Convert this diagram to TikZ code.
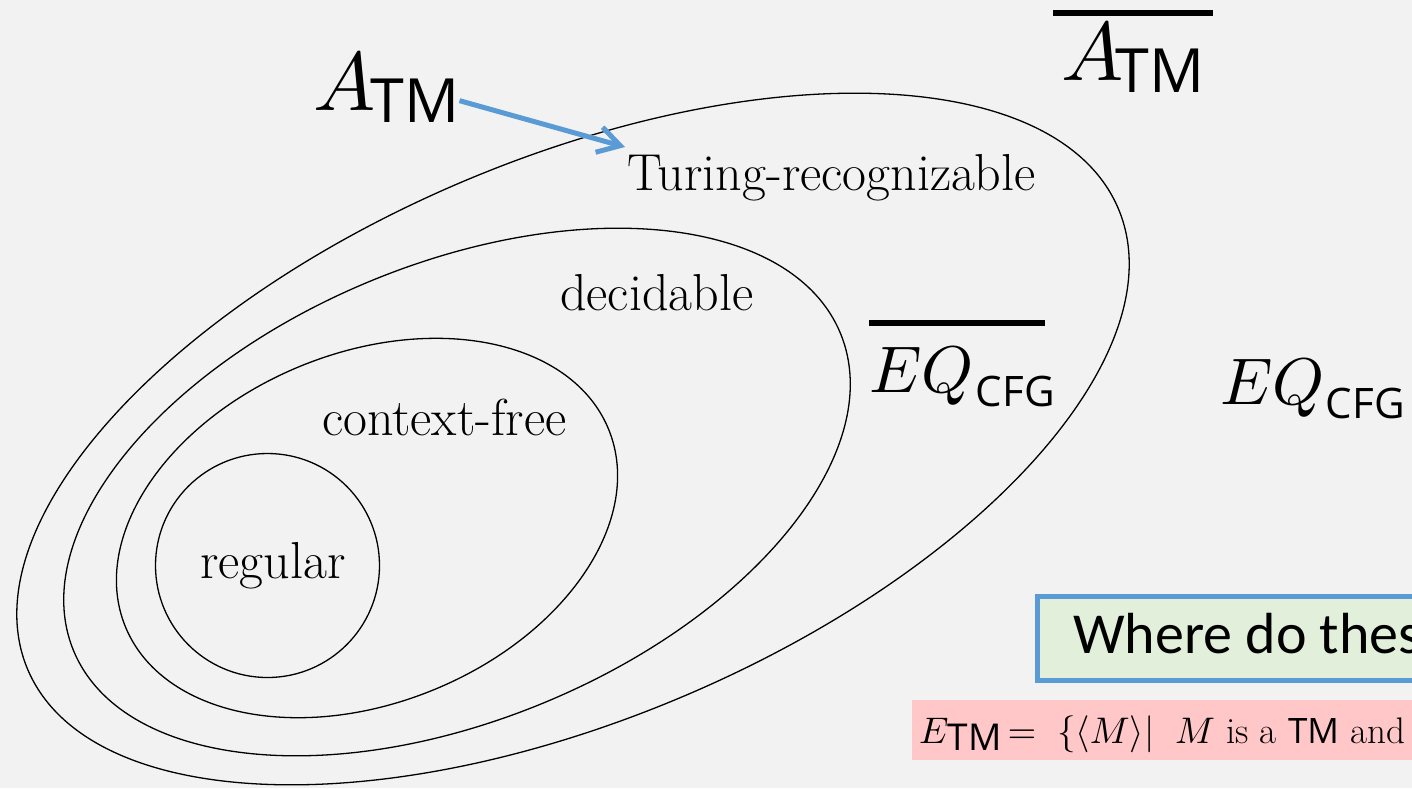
\documentclass[tikz,border=0pt]{standalone}
\usepackage{fontspec}
\usepackage{amsmath}
\usetikzlibrary{arrows.meta}
% scalable math fonts for the very large labels
\DeclareFontShape{OML}{cmm}{m}{it}{<->cmmi10}{}
\DeclareFontShape{OMS}{cmsy}{m}{n}{<->cmsy10}{}
\DeclareFontShape{OMX}{cmex}{m}{n}{<->cmex10}{}
\DeclareFontShape{OT1}{cmr}{m}{n}{<->cmr10}{}
\newfontfamily\subsf{Open Sans}
\newfontfamily\boxsf{Carlito}
\definecolor{bgcol}{RGB}{242,242,242}
\definecolor{arrowblue}{RGB}{91,155,213}
\definecolor{boxgreen}{RGB}{226,239,218}
\definecolor{boxpink}{RGB}{255,199,199}
\newcommand{\bigsub}[3]{\raisebox{-#3pt}{\subsf\fontsize{#2}{#2}\selectfont #1}}
\tikzset{
  setline/.style={draw=black, line width=1.3pt},
  setlabel/.style={inner sep=0pt, anchor=base west, font=\fontsize{52}{60}\selectfont},
  mathlabel/.style={inner sep=0pt, anchor=base west},
  barline/.style={line width=6pt, line cap=butt},
}
\begin{document}
\begin{tikzpicture}[x=1pt,y=1pt]
  \useasboundingbox (0,0) rectangle (1412,-788);
  \fill[bgcol] (0,0) rectangle (1412,-788);
  \clip (0,0) rectangle (1412,-788);

  % nested language classes
  \draw[setline] (573,-439) ellipse[x radius=592, y radius=280, rotate=22.9];
  \draw[setline] (457,-492) ellipse[x radius=415, y radius=228, rotate=22.5];
  \draw[setline] (367,-528) ellipse[x radius=261, y radius=175, rotate=22.2];
  \draw[setline] (267.5,-565.5) circle[radius=112];

  \node[setlabel] (tr) at (627,-190) {Turing-recognizable};
  \node[setlabel] (dec) at (560,-310) {decidable};
  \node[setlabel] (cf) at (322,-435) {context-free};
  \node[setlabel] (reg) at (200,-578) {regular};

  % languages to be placed
  \node[mathlabel] (atm) at (313,-110)
    {\fontsize{83}{90}\selectfont$A$\kern-5pt\bigsub{TM}{61}{12}};
  \node[mathlabel] (atmc) at (1061,-80)
    {\fontsize{83}{90}\selectfont$A$\kern-8pt\bigsub{TM}{61}{12}};
  \draw[barline] ([xshift=-8pt,yshift=10pt]atmc.north west) -- ([xshift=9pt,yshift=10pt]atmc.north east);

  \node[mathlabel] (eqc) at (869,-392)
    {\fontsize{66}{72}\selectfont$EQ$\kern2pt\bigsub{CFG}{42}{14}};
  \draw[barline] ([xshift=0pt,yshift=24pt]eqc.north west) -- ([xshift=-10pt,yshift=24pt]eqc.north east);

  \node[mathlabel] (eq) at (1220,-404)
    {\fontsize{66}{72}\selectfont$EQ$\kern1pt\bigsub{CFG}{42}{14}};

  % arrow into the recognizable class
  \coordinate (tip) at (625,-147);
  \draw[arrowblue, line width=5pt, -{Straight Barb[length=22pt, width=26pt]}] ([yshift=-13pt]atm.east) -- (tip);

  % question box
  \node[draw=arrowblue, line width=5pt, fill=boxgreen, inner sep=0pt, anchor=north west,
        minimum width=400pt, minimum height=84pt] (qbox) at (1034.5,-593.5) {};
  \node[anchor=base west, inner sep=0pt, font=\boxsf\fontsize{58}{64}\selectfont] (qtext) at (1073,-653)
    {Where do thes};

  % definition strip
  \node[fill=boxpink, inner sep=0pt, anchor=north west, minimum width=520pt, minimum height=60pt] (pbox) at (912,-700) {};
  \node[anchor=base west, inner sep=0pt, font=\fontsize{37}{40}\selectfont] (etm) at (919,-743)
    {$E$\kern-1pt\bigsub{TM}{37}{7}\,$=\;\{\langle M\rangle|\;\; M$ is a {\subsf\fontsize{35}{38}\selectfont TM} and};
\end{tikzpicture}
\end{document}
